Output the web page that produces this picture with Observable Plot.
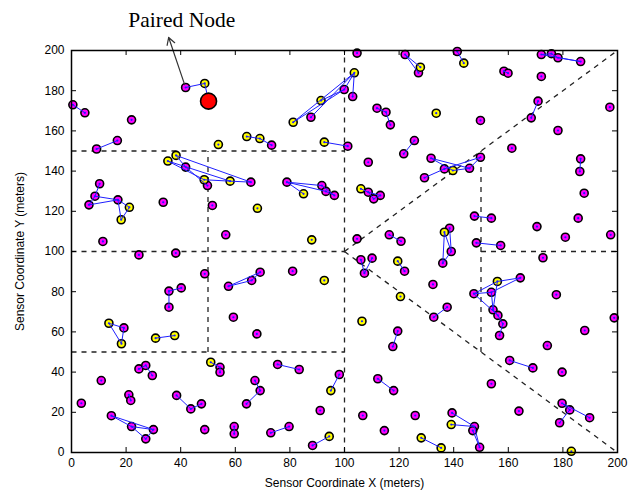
<!DOCTYPE html>
<html>
<head>
<meta charset="utf-8">
<script src="https://cdn.jsdelivr.net/npm/d3@7"></script>
<script src="https://cdn.jsdelivr.net/npm/@observablehq/plot@0.6"></script>
<style>
  body { margin: 0; background: #fff; }
  #chart svg { display: block; }
</style>
</head>
<body>
<div id="chart"></div>
<script>
// Sensor nodes (x, y in meters) by role
const magentaNodes = [
  [41.8,181.6],[0.5,173],[4.9,169],[22,165.5],[9.2,151],[16.8,155.2],[73.3,152.9],
  [41.8,142],[49.8,132.8],[65.7,134.5],[10.3,133.7],[8.6,127.5],[6.4,123.2],[17,125.7],
  [33.6,124.5],[51.6,122.9],[11.5,105],[24.7,98.3],[38.2,99.2],[56.5,108.3],[48.8,88.9],
  [40.2,81.9],[35.7,80.3],[35.7,72.3],[57.5,82.7],[66,85.6],[69.1,89.7],[59.3,67.3],
  [19.2,62],[67.9,59],[54.4,42.4],[54.4,39.9],[24.7,41.6],[27.2,43.3],[29.6,38.3],
  [10.9,35.8],[3.6,24.5],[21,28.7],[21.7,25.9],[38.5,28.4],[43.7,21.7],[47.6,24.2],
  [14.6,18.3],[22,12.9],[30,11.4],[27.2,6.8],[48.8,11.4],[59.6,12.9],[59.6,9.3],
  [67.2,35.8],[69.1,30.8],[64.1,24.2],[119.5,60.4],[117.7,52.7],[75.5,43.8],[83.4,41.3],
  [98.1,38.8],[91.1,20.9],[73,9.8],[79.7,12.9],[88.3,3.5],[112.2,36.7],[118,30.8],
  [106.7,18.4],[114.6,10.9],[125.9,18.4],[139.4,19.7],[147.6,12.9],[147,10.9],[149.5,2.6],
  [153.8,34.2],[160.5,45.8],[169,42.1],[174.3,53.2],[188,60.7],[198.8,67],[179.7,40],
  [163.9,20.6],[179.7,24.5],[182.5,21.2],[189.8,17.3],[178.8,14.8],[186.2,139.8],[186.5,146.1],
  [187.8,129],[147.6,117.6],[153.8,116.6],[170.5,112.4],[185.6,116.6],[180.9,107.1],[197.5,108.3],
  [172.7,96.9],[177.6,78.5],[148.3,104.3],[157.2,103],[164.4,86.9],[147.4,79],[153.8,79.7],
  [154.4,71],[156.2,68.2],[158,64],[156.8,58.2],[138.5,111.6],[139.1,100],[136,94.2],
  [137.6,72.3],[132.7,67.3],[132.4,83.6],[122,90.2],[106,95.9],[110.1,96.7],[107.3,89.2],
  [116.4,108.3],[120.7,105.1],[104.6,106.3],[81,90.2],[108.7,129.5],[113.1,127.9],[110.7,126.2],
  [78.9,134.5],[91.7,132.8],[93.2,129.9],[96.3,127.9],[104.6,198.7],[122.2,198],[127.1,188.9],
  [99.9,180.6],[103,177.1],[87.7,166.8],[111.9,171.3],[115.2,169.3],[116.8,163],[125.6,155.2],
  [121.7,148.6],[108.7,144.4],[101.2,152.4],[129.3,136.7],[131.7,146.4],[136.6,141.1],[145.8,141.4],
  [149.8,146.9],[141.3,199.5],[172.1,198],[175.8,198.4],[178.2,196.4],[186.5,194.5],[158.4,189.7],
  [159.9,188.7],[172.1,187.1],[170.9,174.8],[168.4,166.5],[197.2,171.8],[149.8,165.2],[178.2,160.2],
  [161.3,151.4]
];

const yellowNodes = [
  [48.8,183.6],[53.8,153.2],[64.2,157.2],[69,156.2],[35.3,145],[38.3,147.8],[48.6,135.7],
  [58.1,135],[21.2,122],[18.2,115.8],[68.1,121.5],[13.7,64.3],[18.3,54.1],[30.8,56.9],
  [37.8,58.2],[51,44.9],[106.4,65.3],[95,30.8],[94.4,8],[128.1,7.3],[135.4,2.3],
  [139.1,13.9],[183.1,0.6],[156,85.1],[136.6,109.6],[120.5,77.6],[119.5,95.2],[88,105.8],
  [92.6,85.6],[106,131.2],[85,128.7],[127.8,191.7],[103.6,188.9],[91.4,175.1],[81.2,164.3],
  [133.6,168.8],[92.6,154.4],[139.7,140.3],[143.7,193.7]
];

const pairedNode = [[50.2,174.8]];

// Radio links between nodes: [x1, y1, x2, y2]
const links = [
  [41.8,181.6,48.8,183.6],[48.8,183.6,50.2,174.8],[0.5,173,4.9,169],[9.2,151,16.8,155.2],
  [64.2,157.2,69,156.2],[69,156.2,73.3,152.9],[35.3,145,48.6,135.7],[35.3,145,58.1,135],
  [38.3,147.8,41.8,142],[41.8,142,49.8,132.8],[38.3,147.8,65.7,134.5],[58.1,135,65.7,134.5],
  [48.6,135.7,58.1,135],[10.3,133.7,8.6,127.5],[8.6,127.5,6.4,123.2],[6.4,123.2,17,125.7],
  [8.6,127.5,17,125.7],[17,125.7,21.2,122],[17,125.7,18.2,115.8],[21.2,122,18.2,115.8],
  [40.2,81.9,35.7,80.3],[35.7,80.3,35.7,72.3],[57.5,82.7,66,85.6],[57.5,82.7,69.1,89.7],
  [66,85.6,69.1,89.7],[13.7,64.3,19.2,62],[19.2,62,18.3,54.1],[13.7,64.3,18.3,54.1],
  [30.8,56.9,37.8,58.2],[51,44.9,54.4,42.4],[54.4,42.4,54.4,39.9],[24.7,41.6,27.2,43.3],
  [27.2,43.3,29.6,38.3],[21,28.7,21.7,25.9],[38.5,28.4,43.7,21.7],[43.7,21.7,47.6,24.2],
  [14.6,18.3,22,12.9],[22,12.9,30,11.4],[14.6,18.3,30,11.4],[22,12.9,27.2,6.8],
  [27.2,6.8,30,11.4],[59.6,12.9,59.6,9.3],[67.2,35.8,69.1,30.8],[69.1,30.8,64.1,24.2],
  [119.5,60.4,117.7,52.7],[137.6,72.3,132.7,67.3],[75.5,43.8,83.4,41.3],[98.1,38.8,95,30.8],
  [73,9.8,79.7,12.9],[88.3,3.5,94.4,8],[112.2,36.7,118,30.8],[128.1,7.3,135.4,2.3],
  [139.4,19.7,147.6,12.9],[139.1,13.9,147.6,12.9],[147.6,12.9,149.5,2.6],[147,10.9,149.5,2.6],
  [160.5,45.8,169,42.1],[179.7,24.5,189.8,17.3],[179.7,24.5,182.5,21.2],[182.5,21.2,178.8,14.8],
  [186.5,146.1,186.2,139.8],[147.6,117.6,153.8,116.6],[148.3,104.3,157.2,103],[156,85.1,164.4,86.9],
  [153.8,79.7,164.4,86.9],[147.4,79,153.8,79.7],[147.4,79,156,85.1],[147.4,79,156.2,68.2],
  [153.8,79.7,154.4,71],[156,85.1,154.4,71],[154.4,71,156.2,68.2],[156.2,68.2,158,64],
  [158,64,156.8,58.2],[138.5,111.6,139.1,100],[136.6,109.6,136,94.2],[136.6,109.6,139.1,100],
  [139.1,100,136,94.2],[119.5,95.2,122,90.2],[106,95.9,107.3,89.2],[110.1,96.7,107.3,89.2],
  [116.4,108.3,120.7,105.1],[106,131.2,108.7,129.5],[108.7,129.5,113.1,127.9],[108.7,129.5,110.7,126.2],
  [110.7,126.2,113.1,127.9],[78.9,134.5,91.7,132.8],[78.9,134.5,85,128.7],[78.9,134.5,93.2,129.9],
  [91.7,132.8,96.3,127.9],[93.2,129.9,96.3,127.9],[122.2,198,127.8,191.7],[122.2,198,127.1,188.9],
  [103.6,188.9,81.2,164.3],[103.6,188.9,87.7,166.8],[103.6,188.9,99.9,180.6],[103.6,188.9,103,177.1],
  [91.4,175.1,99.9,180.6],[81.2,164.3,99.9,180.6],[111.9,171.3,115.2,169.3],[115.2,169.3,116.8,163],
  [125.6,155.2,121.7,148.6],[92.6,154.4,101.2,152.4],[129.3,136.7,136.6,141.1],[131.7,146.4,139.7,140.3],
  [136.6,141.1,149.8,146.9],[139.7,140.3,145.8,141.4],[131.7,146.4,145.8,141.4],[145.8,141.4,149.8,146.9],
  [141.3,199.5,143.7,193.7],[172.1,198,175.8,198.4],[175.8,198.4,178.2,196.4],[178.2,196.4,186.5,194.5],
  [172.1,198,186.5,194.5],[158.4,189.7,159.9,188.7],[170.9,174.8,168.4,166.5]
];

// Cluster partition boundaries: [x1, y1, x2, y2]
const partitions = [
  [50,50,50,150],[0,150,100,150],[0,100,100,100],[150,100,200,100],[0,50,100,50],
  [100,0,100,200],[150,50,150,150],[100,100,200,200],[100,100,200,0]
];

const tickValues = [0,20,40,60,80,100,120,140,160,180,200];
const annotation = [{text: "Paired Node", x: 40.4, y: 215, x1: 41.8, y1: 181.6, x2: 35.6, y2: 206.5}];

const W = 639, H = 493, mL = 71, mR = 22, mT = 50, mB = 41;
// inward tick length (5px) expressed in data units
const kx = 5 * 200 / (W - mL - mR);
const ky = 5 * 200 / (H - mT - mB);

const allNodes = magentaNodes.concat(yellowNodes);

const chart = Plot.plot({
  width: W,
  height: H,
  marginLeft: mL,
  marginRight: mR,
  marginTop: mT,
  marginBottom: mB,
  style: {fontFamily: "'Liberation Sans', Arial, sans-serif", fontSize: "12px", color: "#000", background: "#fff"},
  x: {domain: [0, 200]},
  y: {domain: [0, 200]},
  marks: [
    Plot.link(partitions, {x1: d => d[0], y1: d => d[1], x2: d => d[2], y2: d => d[3],
      stroke: "#222", strokeWidth: 1.3, strokeDasharray: "5,5"}),
    Plot.dot(magentaNodes, {x: d => d[0], y: d => d[1], r: 4, fill: "#ff00ff", stroke: "#000", strokeWidth: 1.6}),
    Plot.dot(yellowNodes, {x: d => d[0], y: d => d[1], r: 4, fill: "#ffff00", stroke: "#000", strokeWidth: 1.6}),
    Plot.link(links, {x1: d => d[0], y1: d => d[1], x2: d => d[2], y2: d => d[3],
      stroke: "#1f1fff", strokeWidth: 1}),
    Plot.dot(allNodes, {x: d => d[0], y: d => d[1], r: 1.1, fill: "#1f1fff"}),
    Plot.dot(pairedNode, {x: d => d[0], y: d => d[1], r: 8, fill: "#ff0000", stroke: "#000", strokeWidth: 1.6}),
    Plot.arrow(annotation, {x1: "x1", y1: "y1", x2: "x2", y2: "y2", stroke: "#333", strokeWidth: 1.2, headLength: 10, insetStart: 3}),
    Plot.text(annotation, {x: "x", y: "y", text: "text", fontFamily: "'Liberation Serif', 'Times New Roman', serif", fontSize: 21.5, fill: "#000"}),
    Plot.frame({stroke: "#000", strokeWidth: 1.5}),
    Plot.ruleX(tickValues, {x: d => d, y1: 0, y2: ky, stroke: "#000"}),
    Plot.ruleX(tickValues, {x: d => d, y1: 200, y2: 200 - ky, stroke: "#000"}),
    Plot.ruleY(tickValues, {y: d => d, x1: 0, x2: kx, stroke: "#000"}),
    Plot.ruleY(tickValues, {y: d => d, x1: 200, x2: 200 - kx, stroke: "#000"}),
    Plot.axisX({ticks: tickValues, tickSize: 0, tickPadding: 6, label: "Sensor Coordinate X (meters)",
      labelAnchor: "center", labelArrow: "none", labelOffset: 34, fontSize: 12}),
    Plot.axisY({ticks: tickValues, tickSize: 0, tickPadding: 7, label: "Sensor Coordinate Y (meters)",
      labelAnchor: "center", labelArrow: "none", labelOffset: 56, fontSize: 12})
  ]
});

document.getElementById("chart").appendChild(chart);
</script>
</body>
</html>
